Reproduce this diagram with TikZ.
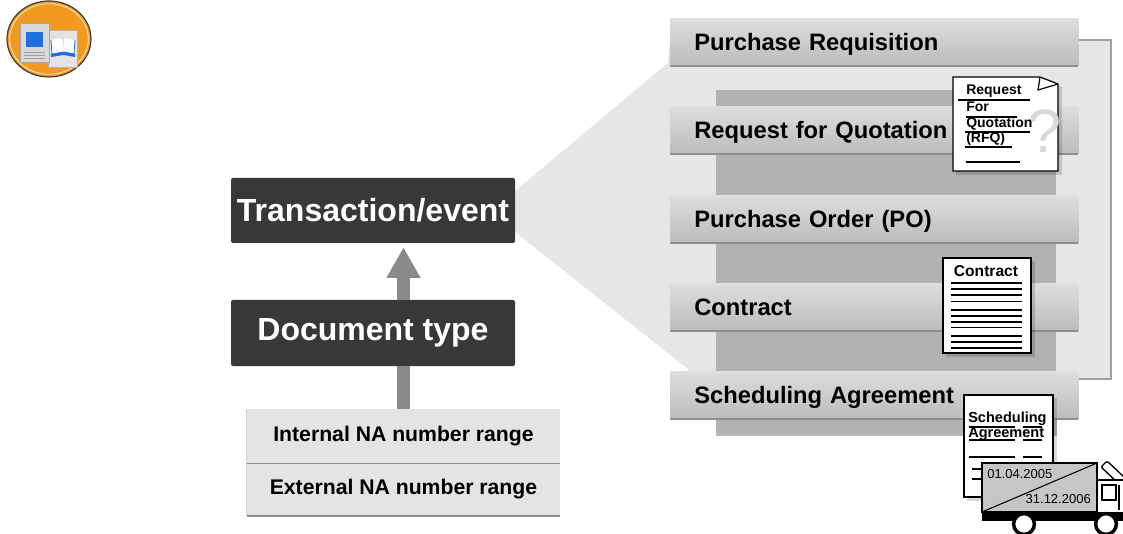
\documentclass[tikz,border=0pt]{standalone}
\usepackage{fontspec}
\setmainfont{Liberation Sans}
\usetikzlibrary{arrows.meta,calc}

\definecolor{boxdark}{HTML}{383838}
\definecolor{arrowgray}{HTML}{8A8A8A}
\definecolor{panelfill}{HTML}{E6E6E6}
\definecolor{panelline}{HTML}{A0A0A0}
\definecolor{innerfill}{HTML}{B2B2B2}
\definecolor{barlight}{HTML}{DEDEDE}
\definecolor{bardark}{HTML}{BBBBBB}
\definecolor{barline}{HTML}{8E8E8E}
\definecolor{rangefill}{HTML}{E4E4E4}
\definecolor{rangeline}{HTML}{8C8C8C}
\definecolor{cargo}{HTML}{C6C6C6}
\definecolor{iconorange}{HTML}{F29A1F}
\definecolor{iconblue}{HTML}{1F6FE0}

\tikzset{
  darkbox/.style={fill=boxdark, text=white, font=\fontsize{24}{28}\selectfont\bfseries,
    minimum width=213pt, minimum height=48.75pt, rounded corners=1.5pt, inner sep=0pt},
  rangebox/.style={fill=rangefill, font=\fontsize{15.9}{18}\selectfont\bfseries,
    minimum width=234.75pt, minimum height=40.5pt, inner sep=0pt},
  stagebar/.style={anchor=north west, top color=barlight, bottom color=bardark,
    font=\fontsize{17.8}{20}\selectfont\bfseries, text width=270pt, align=left,
    text height=12.8pt, text depth=0pt,
    inner xsep=18pt, inner ysep=0pt, minimum height=36pt,
    path picture={\draw[barline, line width=1.6pt]
      (path picture bounding box.south west) -- (path picture bounding box.south east);}},
  flowline/.style={draw=arrowgray, line width=9.75pt},
  flowarrow/.style={flowline, -{Triangle[width=24pt,length=23pt]}},
  docoutline/.style={draw=black, line width=0.9pt, fill=white},
  docshadow/.style={fill=black, fill opacity=0.15},
  doctext/.style={font=\fontsize{10.5}{12}\selectfont\bfseries, inner sep=0pt, anchor=base west},
  formline/.style={line width=0.9pt},
  datetext/.style={font=\fontsize{9.75}{10}\selectfont, inner sep=0pt},
}

\begin{document}
\begin{tikzpicture}[x=0.75pt, y=-0.75pt]
\useasboundingbox[fill=white] (0,0) rectangle (1123,534);

% ---- course icon -------------------------------------------------------
\fill[iconorange] (49,39) ellipse [x radius=31.5pt, y radius=28.5pt];
\draw[black!75, line width=0.9pt] (49,39) ellipse [x radius=31.5pt, y radius=28.5pt];
\draw[white!80!iconorange, line width=0.6pt] (49,39) ellipse [x radius=29.5pt, y radius=26.5pt];
\draw[fill=gray!22, draw=gray!60, line width=0.5pt] (48,30) rectangle (77,67);
\draw[fill=gray!30, draw=gray!70, line width=0.5pt] (20,23) rectangle (49,62);
\fill[iconblue] (26,32) rectangle (43,47);
\draw[gray!75, line width=0.5pt] (24,52) -- (45,52) (24,55) -- (45,55) (24,58) -- (45,58);
\fill[white] (51,40) -- (62,38) -- (64,52) -- (52,54) -- cycle;
\fill[white] (64,38) -- (75,40) -- (74,54) -- (64,52) -- cycle;
\draw[iconblue, line width=0.6pt] (51,40) -- (52,54) -- (64,52) -- (74,54) -- (75,40);
\fill[iconblue] (51,54) -- (64,52) -- (75,54) -- (75,57) -- (64,55) -- (51,57) -- cycle;

% ---- panel that opens out of the transaction box ------------------------
\fill[panelfill] (515,191) -- (668,63) -- (670,40) -- (1112,40) -- (1112,380)
  -- (688,380) -- (688,369) -- (515,232) -- cycle;
\draw[panelline, line width=0.8pt] (1078,40) -- (1111,40) -- (1111,379) -- (1078,379);
\fill[innerfill] (716,90) rectangle (1056,435);
\draw[gray!55, line width=0.8pt] (716,435) -- (1056,435) -- (1056,418);

% ---- stage bars ---------------------------------------------------------
\node[stagebar] (pr)  at (670,18)  {Purchase Requisition};
\node[stagebar] (rfq) at (670,106) {Request for Quotation};
\node[stagebar] (po)  at (670,195) {Purchase Order (PO)};
\node[stagebar] (ct)  at (670,283) {Contract};
\node[stagebar] (sa)  at (670,371) {Scheduling Agreement};

% ---- left column ---------------------------------------------------------
\node[darkbox] (trans) at (373,210.5) {Transaction/event};
\node[darkbox, minimum height=49.5pt] (doc) at (373,333) {Document type};
\node[rangebox] (nr1) at (403.5,436) {Internal NA number range};
\node[rangebox, minimum height=39.75pt] (nr2) at (403.5,489.5) {External NA number range};
\draw[rangeline, line width=1pt] (nr1.south west) -- (nr1.south east);
\draw[rangeline, line width=1.2pt] (nr2.south west) -- (nr2.south east);
\draw[gray!35, line width=0.6pt] (nr1.north west) -- (nr2.south west);

\draw[flowline] (nr1.north) -- (doc.south -| nr1.north);
\draw[flowarrow] (doc.north -| nr1.north) -- ($(trans.south -| nr1.north)+(0,4)$);

% ---- request for quotation sheet ----------------------------------------
\fill[docshadow] (956,80) -- (1043,80) -- (1062,87) -- (1062,175) -- (956,175) -- cycle;
\draw[docoutline] (953,77) -- (1040,77) -- (1058,84) -- (1058,171) -- (953,171) -- cycle;
\draw[line width=0.9pt] (1040,77) -- (1038,90) -- (1058,84);
\node[text=gray!30, font=\fontsize{46}{46}\selectfont, inner sep=0pt] (qm) at (1045,131) {?};
\node[doctext] (rq1) at (966,95)  {Request};
\node[doctext] (rq2) at (966,112) {For};
\node[doctext] (rq3) at (966,128) {Quotation};
\node[doctext] (rq4) at (966,143) {(RFQ)};
\draw[formline] (958,100) -- (1030,100) (966,117) -- (1017,117) (965,132) -- (1030,132)
  (965,147) -- (1012,147) (966,162) -- (1020,162);

% ---- contract sheet ------------------------------------------------------
\fill[docshadow] (946,261) rectangle (1035,357);
\draw[docoutline] (943,258) rectangle (1031,353);
\node[font=\fontsize{11.7}{12}\selectfont\bfseries, inner sep=0pt, anchor=base] (ctt) at (986,277) {Contract};
\foreach \yy in {283,289,295,301.5,310,316,322,327.5,336,342,348}
  \draw[line width=1pt] (951,\yy) -- (1022,\yy);

% ---- scheduling agreement sheet -----------------------------------------
\fill[docshadow] (967,398) rectangle (1057,501);
\draw[docoutline] (964,395) rectangle (1053,497);
\node[doctext, font=\fontsize{10.9}{12}\selectfont\bfseries] (sc1) at (968,422) {Scheduling};
\node[doctext, font=\fontsize{10.9}{12}\selectfont\bfseries] (sc2) at (968,437) {Agreement};
\foreach \yy in {427,440,457}
  \draw[formline] (969,\yy) -- (1015,\yy) (1023,\yy) -- (1042,\yy);
\draw[formline] (972,469) -- (983,469) (972,479) -- (983,479);

% ---- delivery truck ------------------------------------------------------
\draw[line width=1pt, rounded corners=1.5pt, fill=white] (1101,467) -- (1107,461) -- (1125,478) -- (1119,484) -- cycle;
\draw[line width=1pt, fill=white] (1097,480) -- (1125,480) -- (1125,513) -- (1097,513) -- cycle;
\draw[line width=0.8pt] (1102,485) rectangle (1116,500);
\draw[line width=0.8pt] (1119,485) -- (1119,510);
\draw[line width=1pt, fill=cargo] (982,463) rectangle (1097,512);
\draw[line width=0.8pt] (982,512) -- (1097,463);
\node[datetext, anchor=base west] (d1) at (987,478) {01.04.2005};
\node[datetext, anchor=base east] (d2) at (1091,503) {31.12.2006};
\fill[black] (982,512) rectangle (1125,521);
\draw[fill=white, line width=2.6pt] (1024,524) circle [radius=7.8pt];
\draw[fill=white, line width=2.6pt] (1106,524) circle [radius=7.8pt];
\end{tikzpicture}
\end{document}
